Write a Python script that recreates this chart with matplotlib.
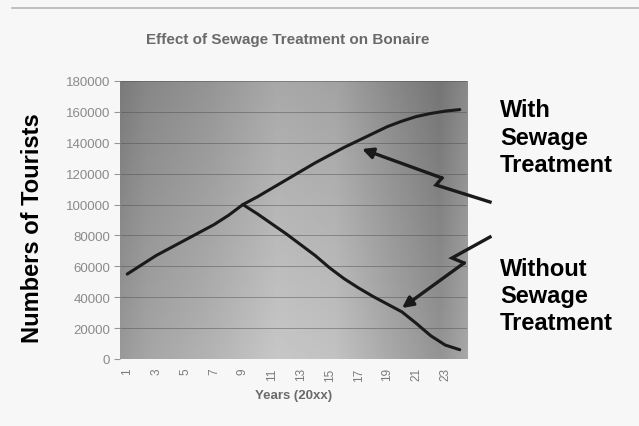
import numpy as np
import matplotlib
matplotlib.use("Agg")
import matplotlib.pyplot as plt
from matplotlib.patches import FancyArrowPatch
from matplotlib.lines import Line2D

plt.rcParams['font.family'] = ['Liberation Sans', 'DejaVu Sans']

# ---- data ----
years = list(range(1, 25))
with_treatment = [55000, 61000, 67000, 72000, 77000, 82000, 87000, 93000, 100000,
                  105000, 110500, 116000, 121500, 127000, 132000, 137000, 141500,
                  146000, 150500, 154000, 157000, 159000, 160500, 161500]
without_treatment = [np.nan] * 8 + [100000, 94000, 87500, 81000, 74000, 67000, 59000,
                                    52000, 46000, 40500, 35500, 30500, 23000, 15000,
                                    9000, 6000]
x_tick_labels = [str(y) for y in range(1, 24, 2)]
y_ticks = list(range(0, 180001, 20000))

title = "Effect of Sewage Treatment on Bonaire"
x_label = "Years (20xx)"
y_label = "Numbers of Tourists"

W, H = 639, 427
fig = plt.figure(figsize=(W / 100, H / 100), dpi=100)
fig.patch.set_facecolor('#f7f7f7')

def fx(px):
    return px / W

def fy(py):
    return 1 - py / H

left, right, top, bottom = 120, 467, 82, 360
ax = fig.add_axes([fx(left), fy(bottom), fx(right) - fx(left), fy(top) - fy(bottom)])

# scanned-gray background (style only)
hx = np.array([0.0, 0.08, 0.25, 0.45, 0.62, 0.78, 0.92, 1.0])
hv = np.array([0.50, 0.55, 0.60, 0.68, 0.66, 0.56, 0.48, 0.56])
xs = np.linspace(0, 1, 300)
prof = np.interp(xs, hx, hv)
vy = np.linspace(0, 1, 100)[:, None]          # 0 bottom -> 1 top
img = prof[None, :] + 0.10 * (1 - vy) - 0.02 * vy
img = np.clip(img, 0, 1)
ax.imshow(img, cmap='gray', vmin=0, vmax=1, extent=[0.5, 24.5, 0, 180000],
          aspect='auto', origin='lower', zorder=0, interpolation='bilinear')

ax.set_xlim(0.5, 24.5)
ax.set_ylim(0, 180000)
ax.set_yticks(y_ticks)
ax.set_yticklabels([str(v) for v in y_ticks], fontsize=9.5, color='#8a8a8a')
ax.set_xticks(list(range(1, 24, 2)))
ax.set_xticklabels(x_tick_labels, rotation=90, fontsize=8.5, color='#7a7a7a')
ax.tick_params(axis='y', length=4, color='#999999', pad=3)
ax.tick_params(axis='x', length=0, pad=6)
for s in ax.spines.values():
    s.set_visible(False)
ax.grid(axis='y', color='#4a4a4a', linewidth=0.7, alpha=0.45, zorder=1)
ax.set_axisbelow(False)

ax.plot(years, with_treatment, color='#1a1a1a', linewidth=2.2, zorder=3,
        solid_capstyle='round')
ax.plot(years, without_treatment, color='#1a1a1a', linewidth=2.2, zorder=3,
        solid_capstyle='round')

ax.set_xlabel(x_label, fontsize=9.5, fontweight='bold', color='#6a6a6a', labelpad=6)

fig.text(fx(288), fy(40), title, fontsize=11, fontweight='bold', color='#6a6a6a',
         ha='center', va='center')
fig.text(fx(33), fy(228), y_label, fontsize=17, fontweight='bold', color='black',
         rotation=90, ha='center', va='center')

# right-hand annotations
for txt, base in zip(["With", "Sewage", "Treatment"], [117, 145, 172]):
    fig.text(fx(500), fy(base), txt, fontsize=17, fontweight='bold', color='black',
             ha='left', va='baseline')
for txt, base in zip(["Without", "Sewage", "Treatment"], [276, 303, 330]):
    fig.text(fx(500), fy(base), txt, fontsize=17, fontweight='bold', color='black',
             ha='left', va='baseline')

# lightning arrows (figure pixel coordinates)
def bolt(pts):
    xs_ = [fx(p[0]) for p in pts[:-1]]
    ys_ = [fy(p[1]) for p in pts[:-1]]
    fig.add_artist(Line2D(xs_, ys_, transform=fig.transFigure, color='#1a1a1a',
                          linewidth=2.4, solid_joinstyle='miter', zorder=5))
    a = FancyArrowPatch((fx(pts[-2][0]), fy(pts[-2][1])), (fx(pts[-1][0]), fy(pts[-1][1])),
                        transform=fig.transFigure, arrowstyle='-|>', mutation_scale=16,
                        color='#1a1a1a', linewidth=2.4, shrinkA=0, shrinkB=0, zorder=5)
    fig.add_artist(a)

bolt([(490, 203), (436, 186), (442, 179), (362, 150)])
bolt([(490, 238), (452, 259), (464, 264), (402, 309)])

# scan border line at top
fig.add_artist(Line2D([fx(12), fx(639)], [fy(9), fy(9)], transform=fig.transFigure,
                      color='#b5b5b5', linewidth=1.2))

fig.savefig('out.png', dpi=100, facecolor=fig.get_facecolor())
